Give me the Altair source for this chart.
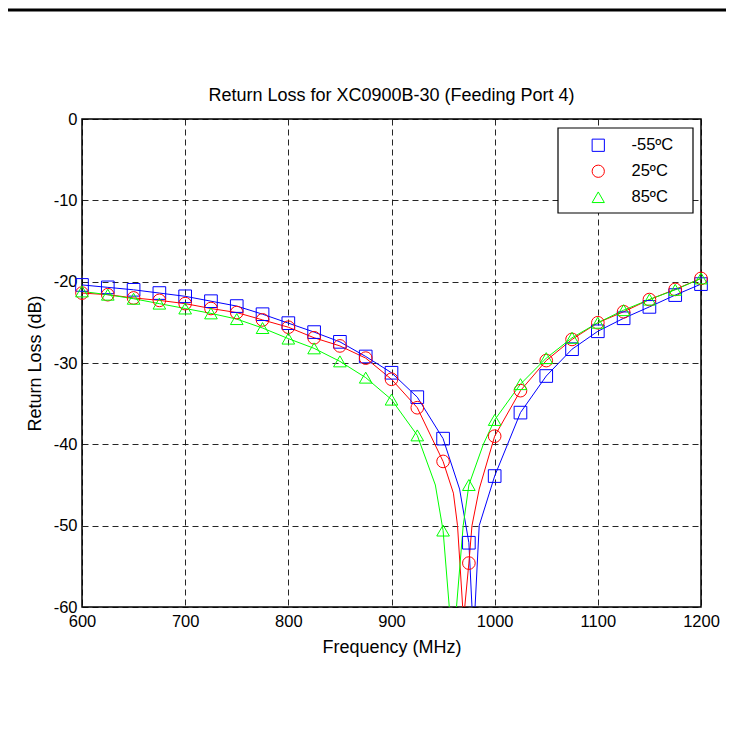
import altair as alt
import pandas as pd

# ---------------- data ----------------
series = ["-55ºC", "25ºC", "85ºC"]
colors = ["#0000ff", "#ff0000", "#00ff00"]
shapes = ["square", "circle", "triangle-up"]

freq_markers = [600, 625, 650, 675, 700, 725, 750, 775, 800, 825, 850, 875, 900,
                925, 950, 975, 1000, 1025, 1050, 1075, 1100, 1125, 1150, 1175, 1200]

m55_markers = [-20.4, -20.7, -21.0, -21.4, -21.8, -22.4, -23.0, -24.0, -25.1, -26.2,
               -27.4, -29.2, -31.2, -34.2, -39.3, -52.1, -43.9, -36.1, -31.6, -28.3,
               -26.1, -24.5, -23.1, -21.65, -20.3]
p25_markers = [-21.4, -21.6, -22.0, -22.3, -22.7, -23.3, -23.8, -24.7, -25.6, -26.9,
               -27.9, -29.4, -32.0, -35.5, -42.1, -54.6, -39.0, -33.4, -29.7, -27.1,
               -25.05, -23.7, -22.2, -20.95, -19.6]
p85_markers = [-21.2, -21.6, -22.1, -22.7, -23.3, -23.9, -24.6, -25.7, -27.0, -28.2,
               -29.8, -31.8, -34.5, -38.9, -50.6, -45.0, -37.0, -32.6, -29.4, -26.9,
               -25.05, -23.5, -22.2, -21.0, -19.6]

# extra points of the continuous curves around the resonance dip
m55_dip_freq = [966, 978, 979.5, 981, 985]
m55_dip_val = [-45.5, -60, -70, -60, -50]
p25_dip_freq = [960, 964, 969, 970, 971, 978, 985]
p25_dip_val = [-46, -50, -60, -70, -60, -50, -45.5]
p85_dip_freq = [942.5, 956, 959.5, 963, 969.5, 989]
p85_dip_val = [-45, -60, -70, -60, -50, -40]

x_ticks = [600, 700, 800, 900, 1000, 1100, 1200]
y_ticks = [0, -10, -20, -30, -40, -50, -60]

# ---------------- tables ----------------
mk_rows, ln_rows = [], []
for name, vals, dfq, dvl in [
    (series[0], m55_markers, m55_dip_freq, m55_dip_val),
    (series[1], p25_markers, p25_dip_freq, p25_dip_val),
    (series[2], p85_markers, p85_dip_freq, p85_dip_val),
]:
    pts = list(zip(freq_markers, vals))
    for f, v in pts:
        mk_rows.append({"freq": f, "rl": v, "series": name})
    for f, v in sorted(pts + list(zip(dfq, dvl))):
        ln_rows.append({"freq": f, "rl": v, "series": name})
markers = pd.DataFrame(mk_rows)
lines = pd.DataFrame(ln_rows)

FONT = "Liberation Sans"

x_enc = alt.X("freq:Q", scale=alt.Scale(domain=[600, 1200], nice=False, zero=False),
              axis=alt.Axis(values=x_ticks, title="Frequency (MHz)",
                            labelExpr="'' + datum.value"))
y_enc = alt.Y("rl:Q", scale=alt.Scale(domain=[-60, 0], nice=False),
              axis=alt.Axis(values=y_ticks, title="Return Loss (dB)",
                            labelExpr="'' + datum.value"))

legend = alt.Legend(
    title=None, orient="none", legendX=476, legendY=9,
    strokeColor="transparent", fillColor="transparent", padding=9,
    labelFont=FONT, labelFontSize=16.5, labelColor="black",
    symbolSize=150, symbolStrokeWidth=1, symbolOffset=23, labelOffset=25,
    rowPadding=9,
)

color_scale = alt.Scale(domain=series, range=colors)
shape_scale = alt.Scale(domain=series, range=shapes)

line_layer = alt.Chart(lines).mark_line(strokeWidth=1, clip=True).encode(
    x=x_enc, y=y_enc,
    color=alt.Color("series:N", scale=color_scale, legend=legend),
    order="freq:Q",
)

point_layer = alt.Chart(markers).mark_point(size=160, strokeWidth=1, filled=False, opacity=1).encode(
    x="freq:Q", y="rl:Q",
    color=alt.Color("series:N", scale=color_scale, legend=legend),
    shape=alt.Shape("series:N", scale=shape_scale, legend=legend),
)

# legend frame (white box with black border, behind the legend entries)
legend_box = alt.Chart(pd.DataFrame({"k": [0]})).mark_rect(
    fill="white", stroke="black", strokeWidth=1.2, clip=False
).encode(x=alt.value(476), x2=alt.value(611), y=alt.value(9), y2=alt.value(94))

top_line = alt.Chart(pd.DataFrame({"k": [0]})).mark_rule(
    color="black", strokeWidth=3, clip=False
).encode(x=alt.value(-74), x2=alt.value(644), y=alt.value(-109))

chart = alt.layer(line_layer, point_layer, legend_box, top_line).properties(
    width=619, height=488,
    title=alt.TitleParams(
        "Return Loss for XC0900B-30 (Feeding Port 4)",
        font=FONT, fontSize=18, fontWeight="normal", color="black",
        anchor="middle", baseline="alphabetic", offset=10, dy=120,
    ),
    autosize=alt.AutoSizeParams(type="none"),
    padding={"left": 74, "top": 111, "right": 25, "bottom": 123},
).configure_view(
    stroke="black", strokeWidth=1.5
).configure_axis(
    grid=True, gridColor="black", gridDash=[6, 4], gridWidth=1, gridOpacity=0.85,
    ticks=False, domain=False,
    labelFont=FONT, labelFontSize=16.5, labelColor="black", labelPadding=5,
    titleFont=FONT, titleFontSize=18, titleFontWeight="normal", titleColor="black",
    labelFlush=False, labelOverlap=False,
).configure_axisY(
    titlePadding=9,
).configure_axisX(
    titlePadding=9, labelPadding=6,
)

chart.save("out.html", embed_options={"renderer": "svg", "actions": False})
